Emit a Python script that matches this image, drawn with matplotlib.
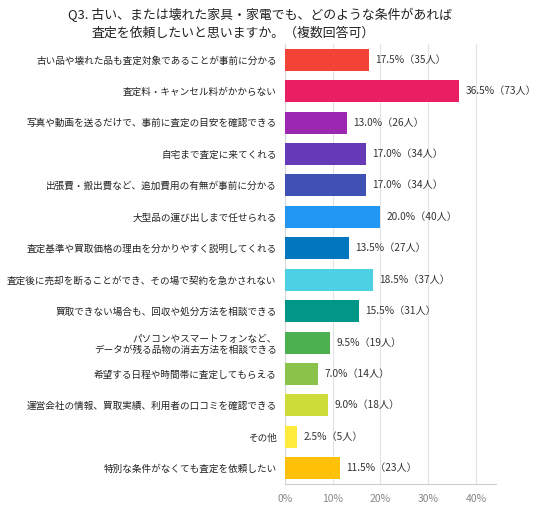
import matplotlib
matplotlib.use("Agg")
import matplotlib.pyplot as plt

plt.rcParams['font.family'] = ['Noto Sans CJK JP', 'DejaVu Sans']

categories = [
    "古い品や壊れた品も査定対象であることが事前に分かる",
    "査定料・キャンセル料がかからない",
    "写真や動画を送るだけで、事前に査定の目安を確認できる",
    "自宅まで査定に来てくれる",
    "出張費・搬出費など、追加費用の有無が事前に分かる",
    "大型品の運び出しまで任せられる",
    "査定基準や買取価格の理由を分かりやすく説明してくれる",
    "査定後に売却を断ることができ、その場で契約を急かされない",
    "買取できない場合も、回収や処分方法を相談できる",
    "パソコンやスマートフォンなど、\nデータが残る品物の消去方法を相談できる",
    "希望する日程や時間帯に査定してもらえる",
    "運営会社の情報、買取実績、利用者の口コミを確認できる",
    "その他",
    "特別な条件がなくても査定を依頼したい",
]
percents = [17.5, 36.5, 13.0, 17.0, 17.0, 20.0, 13.5, 18.5, 15.5, 9.5, 7.0, 9.0, 2.5, 11.5]
counts = [35, 73, 26, 34, 34, 40, 27, 37, 31, 19, 14, 18, 5, 23]
colors = ["#F44336", "#E91E63", "#9C27B0", "#673AB7", "#3F51B5", "#2196F3", "#0277BD",
          "#4DD0E1", "#009688", "#4CAF50", "#8BC34A", "#CDDC39", "#FFEB3B", "#FFC107"]
xticks = [0, 10, 20, 30, 40]

fig = plt.figure(figsize=(5.36, 5.09), dpi=100)
ax = fig.add_axes([0.5317, 0.0491, 0.3937, 0.8645])

ypos = list(range(len(categories)))
ax.barh(ypos, percents, height=0.7, color=colors, zorder=3)
for y, p, n in zip(ypos, percents, counts):
    ax.text(p + 1.3, y, f"{p:.1f}%（{n}人）", va='center', ha='left', fontsize=7.3, color='#333333')

ax.set_xlim(0, 44.2)
ax.set_ylim(len(categories) - 0.5, -0.5)
ax.set_yticks(ypos)
ax.set_yticklabels(categories, fontsize=6.9, color='#222222')
ax.set_xticks(xticks)
ax.set_xticklabels([f"{t}%" for t in xticks], fontsize=7.5, color='#888888')
ax.tick_params(axis='both', length=0)
ax.tick_params(axis='y', pad=6)
ax.tick_params(axis='x', pad=7)
ax.grid(axis='x', color='#e3e3e3', linewidth=0.8, zorder=0)
for s in ['top', 'right']:
    ax.spines[s].set_visible(False)
ax.spines['left'].set_color('#d8d8d8')
ax.spines['bottom'].set_color('#cccccc')

fig.text(68 / 536, 1 - 15 / 509, "Q3. 古い、または壊れた家具・家電でも、どのような条件があれば",
         fontsize=9.3, ha='left', va='center', color='#222222')
fig.text(92 / 536, 1 - 33 / 509, "査定を依頼したいと思いますか。（複数回答可）",
         fontsize=9.3, ha='left', va='center', color='#222222')

fig.savefig("out.png", dpi=100)
